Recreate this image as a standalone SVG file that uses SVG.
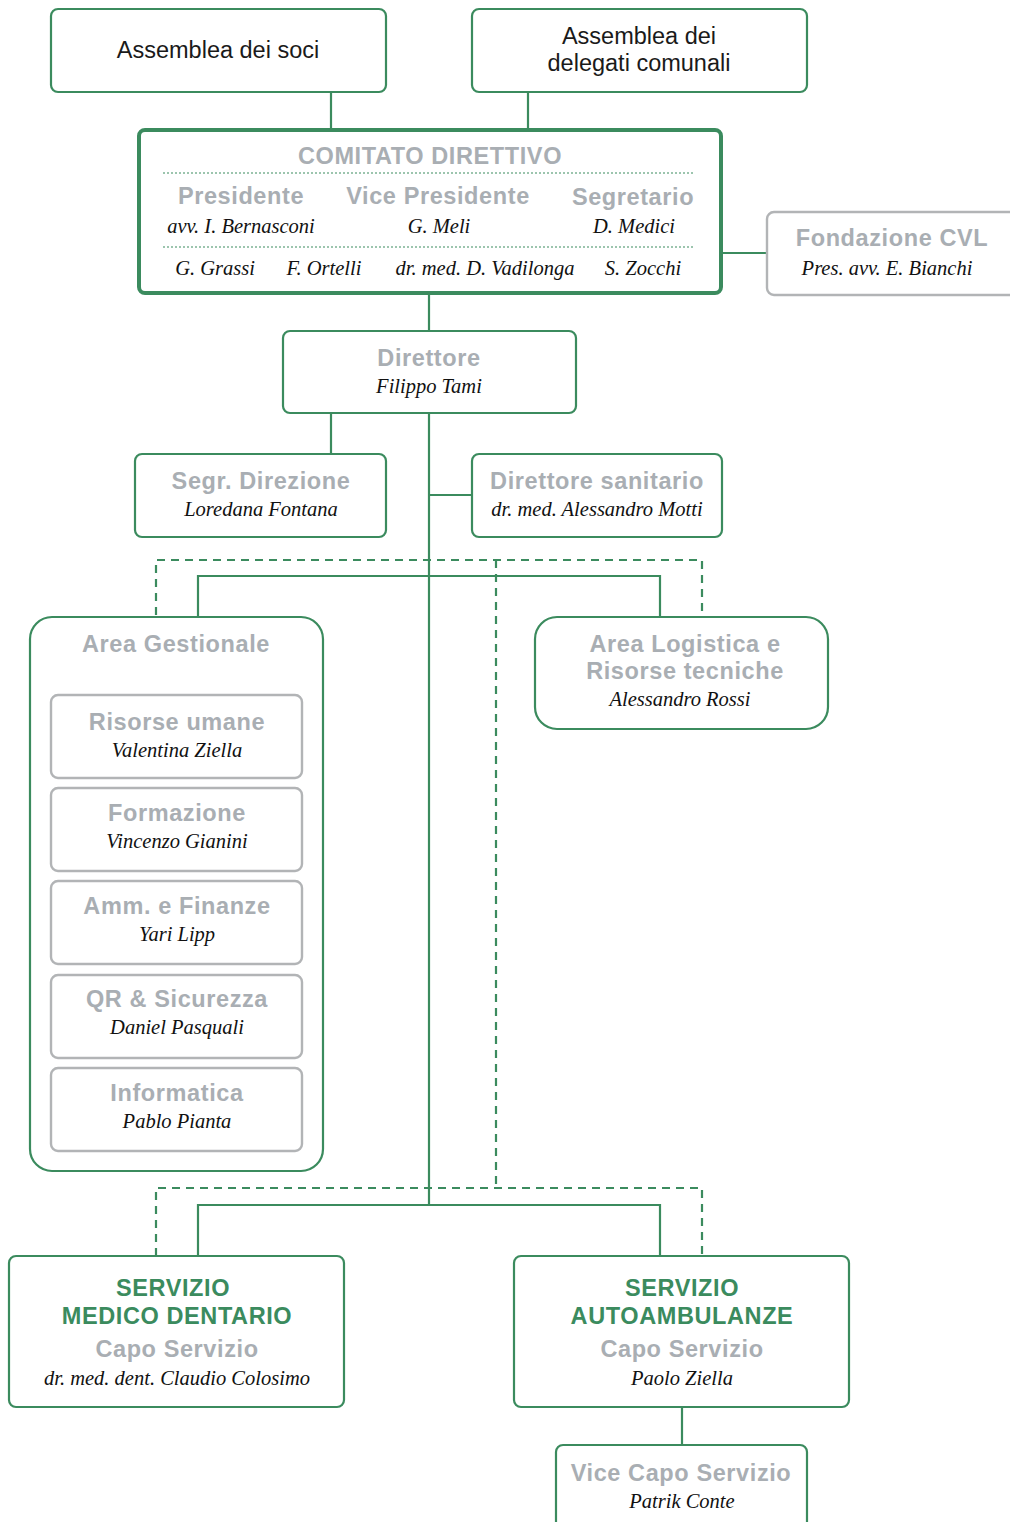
<svg xmlns="http://www.w3.org/2000/svg" width="1010" height="1522" viewBox="0 0 1010 1522">
<style>
.box{fill:#fff;stroke:#3b8b5e;stroke-width:2.2}
.gbox{fill:#fff;stroke:#b2b4b6;stroke-width:2.4}
.ln{fill:none;stroke:#3b8b5e;stroke-width:2.2}
.dash{fill:none;stroke:#3b8b5e;stroke-width:2.2;stroke-dasharray:8 6}
.dot{fill:none;stroke:#3b8b5e;stroke-width:1.2;stroke-dasharray:2 2}
.reg{font-family:"Liberation Sans",Arial,sans-serif;font-size:23.5px;fill:#1a1a1a;text-anchor:middle}
.t{font-family:"Liberation Sans",Arial,sans-serif;font-weight:bold;font-size:23.5px;letter-spacing:0.6px;fill:#a9aeb3;text-anchor:middle}
.g{font-family:"Liberation Sans",Arial,sans-serif;font-weight:bold;font-size:23.5px;letter-spacing:0.6px;fill:#3b8b5e;text-anchor:middle}
.n{font-family:"Liberation Serif","Times New Roman",serif;font-style:italic;font-size:20.5px;fill:#111;text-anchor:middle}
</style>
<g id="connectors">
<path class="ln" d="M331 92V130M528 92V130M721 253H767M429 293V331M331 413V454M429 413V1205M429 495H472"/>
<path class="ln" d="M198 617V576H660V617M198 1256V1205H660V1256M682 1407V1445"/>
<path class="dash" d="M156 615V560H702V615M496 560V1188M156 1256V1188H702V1256"/>
</g>
<g id="assemblea-soci">
<rect class="box" x="51" y="9" width="335" height="83" rx="7"/>
<text class="reg" x="218" y="58">Assemblea dei soci</text>
</g>
<g id="assemblea-delegati">
<rect class="box" x="472" y="9" width="335" height="83" rx="7"/>
<text class="reg" x="639" y="44">Assemblea dei</text>
<text class="reg" x="639" y="71">delegati comunali</text>
</g>
<g id="comitato">
<rect class="box" x="139" y="130" width="582" height="163" rx="6" style="stroke-width:4"/>
<text class="t" x="430" y="164">COMITATO DIRETTIVO</text>
<path class="dot" d="M163 173H693M163 247H693"/>
<text class="t" x="241" y="204">Presidente</text>
<text class="t" x="438" y="204">Vice Presidente</text>
<text class="t" x="633" y="205">Segretario</text>
<text class="n" x="241" y="233">avv. I. Bernasconi</text>
<text class="n" x="439" y="233">G. Meli</text>
<text class="n" x="634" y="233">D. Medici</text>
<text class="n" x="215" y="275">G. Grassi</text>
<text class="n" x="324" y="275">F. Ortelli</text>
<text class="n" x="485" y="275">dr. med. D. Vadilonga</text>
<text class="n" x="643" y="275">S. Zocchi</text>
</g>
<g id="fondazione">
<rect class="gbox" x="767" y="212" width="260" height="83" rx="7"/>
<text class="t" x="892" y="246">Fondazione CVL</text>
<text class="n" x="887" y="275">Pres. avv. E. Bianchi</text>
</g>
<g id="direttore">
<rect class="box" x="283" y="331" width="293" height="82" rx="7"/>
<text class="t" x="429" y="366">Direttore</text>
<text class="n" x="429" y="393">Filippo Tami</text>
</g>
<g id="segr-direzione">
<rect class="box" x="135" y="454" width="251" height="83" rx="7"/>
<text class="t" x="261" y="489">Segr. Direzione</text>
<text class="n" x="261" y="516">Loredana Fontana</text>
</g>
<g id="direttore-sanitario">
<rect class="box" x="472" y="454" width="250" height="83" rx="7"/>
<text class="t" x="597" y="489">Direttore sanitario</text>
<text class="n" x="597" y="516">dr. med. Alessandro Motti</text>
</g>
<g id="area-gestionale">
<rect class="box" x="30" y="617" width="293" height="554" rx="22"/>
<text class="t" x="176" y="652">Area Gestionale</text>
</g>
<g id="risorse-umane">
<rect class="gbox" x="51" y="695" width="251" height="83" rx="7"/>
<text class="t" x="177" y="730">Risorse umane</text>
<text class="n" x="177" y="757">Valentina Ziella</text>
</g>
<g id="formazione">
<rect class="gbox" x="51" y="788" width="251" height="83" rx="7"/>
<text class="t" x="177" y="821">Formazione</text>
<text class="n" x="177" y="848">Vincenzo Gianini</text>
</g>
<g id="amm-finanze">
<rect class="gbox" x="51" y="881" width="251" height="83" rx="7"/>
<text class="t" x="177" y="914">Amm. e Finanze</text>
<text class="n" x="177" y="941">Yari Lipp</text>
</g>
<g id="qr-sicurezza">
<rect class="gbox" x="51" y="975" width="251" height="83" rx="7"/>
<text class="t" x="177" y="1007">QR &amp; Sicurezza</text>
<text class="n" x="177" y="1034">Daniel Pasquali</text>
</g>
<g id="informatica">
<rect class="gbox" x="51" y="1068" width="251" height="83" rx="7"/>
<text class="t" x="177" y="1101">Informatica</text>
<text class="n" x="177" y="1128">Pablo Pianta</text>
</g>
<g id="area-logistica">
<rect class="box" x="535" y="617" width="293" height="112" rx="22"/>
<text class="t" x="685" y="652">Area Logistica e</text>
<text class="t" x="685" y="679">Risorse tecniche</text>
<text class="n" x="680" y="706">Alessandro Rossi</text>
</g>
<g id="servizio-medico-dentario">
<rect class="box" x="9" y="1256" width="335" height="151" rx="7"/>
<text class="g" x="173" y="1296">SERVIZIO</text>
<text class="g" x="177" y="1324">MEDICO DENTARIO</text>
<text class="t" x="177" y="1357">Capo Servizio</text>
<text class="n" x="177" y="1385">dr. med. dent. Claudio Colosimo</text>
</g>
<g id="servizio-autoambulanze">
<rect class="box" x="514" y="1256" width="335" height="151" rx="7"/>
<text class="g" x="682" y="1296">SERVIZIO</text>
<text class="g" x="682" y="1324">AUTOAMBULANZE</text>
<text class="t" x="682" y="1357">Capo Servizio</text>
<text class="n" x="682" y="1385">Paolo Ziella</text>
</g>
<g id="vice-capo-servizio">
<rect class="box" x="556" y="1445" width="251" height="95" rx="7"/>
<text class="t" x="681" y="1481">Vice Capo Servizio</text>
<text class="n" x="682" y="1508">Patrik Conte</text>
</g>
</svg>
